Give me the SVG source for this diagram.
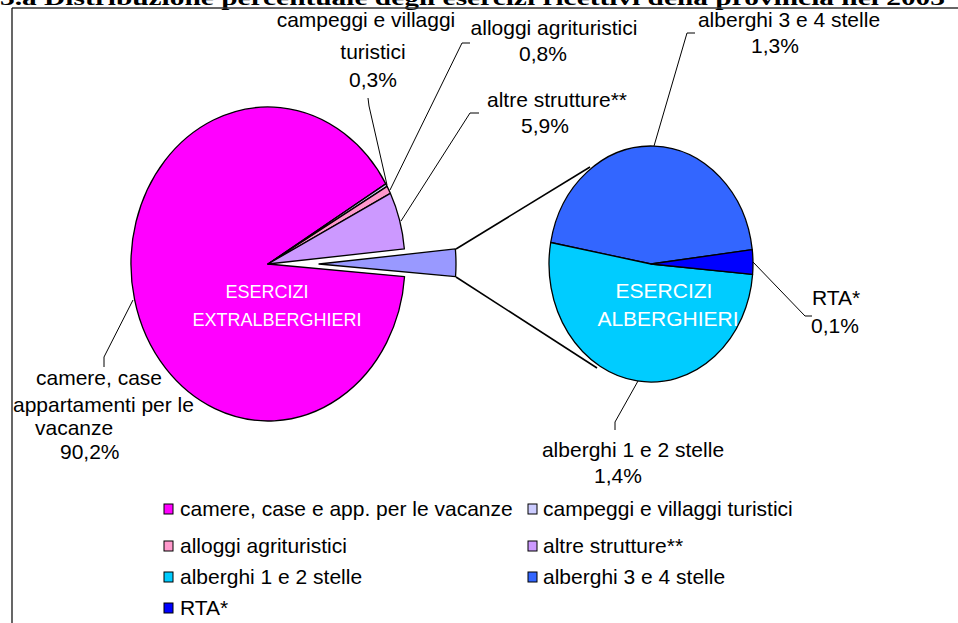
<svg xmlns="http://www.w3.org/2000/svg" width="958" height="623" viewBox="0 0 958 623">
<style>
.lbl{font-family:"Liberation Sans",Arial,sans-serif;font-size:21px;fill:#000}
.in{font-family:"Liberation Sans",Arial,sans-serif;font-size:21px;fill:#fff;text-anchor:middle}
.in2{font-family:"Liberation Sans",Arial,sans-serif;font-size:18px;fill:#fff;text-anchor:middle}
.mid{text-anchor:middle}
.sl{stroke:#000;stroke-width:1.3;stroke-linejoin:round}
.lead{fill:none;stroke:#000;stroke-width:1}
.conn{fill:none;stroke:#000;stroke-width:1.6}
.key{stroke:#000;stroke-width:1}
.title{font-family:"Liberation Serif","Times New Roman",serif;font-size:22px;font-weight:bold;fill:#000}
</style>
<rect width="958" height="623" fill="#fff"/>
<text class="title" x="0" y="5" textLength="945" lengthAdjust="spacingAndGlyphs">3.a Distribuzione percentuale degli esercizi ricettivi della provincia nel 2003</text>
<g id="frame">
<line x1="12" y1="8" x2="958" y2="8" stroke="#333" stroke-width="1.6"/>
<line x1="12" y1="8" x2="12" y2="623" stroke="#000" stroke-width="1.2"/>
</g>
<g id="connectors">
<polyline class="conn" points="456,249 590,167"/>
<polyline class="conn" points="456,277 597,368"/>
<polyline class="lead" points="104,367 104,357 133,300"/>
<polyline class="lead" points="368,98 369,106 387,185"/>
<polyline class="lead" points="470,43 462,43 390,190"/>
<polyline class="lead" points="479,113 470,113 401,221"/>
<polyline class="lead" points="695,33 687,33 654,146"/>
<polyline class="lead" points="753,262 805,316 812,316"/>
<polyline class="lead" points="638,381 615,422 615,430"/>
</g>
<g id="camere">
<path class="sl" fill="#FF00FF" d="M268,264 L404.56,276.54 A137,157 0 1,1 385.80,183.84 Z"/>
<text class="lbl" x="36" y="385">camere, case</text>
<text class="lbl" x="13" y="412">appartamenti per le</text>
<text class="lbl" x="35" y="435">vacanze</text>
<text class="lbl" x="60" y="459">90,2%</text>
<text class="in2" x="267" y="298">ESERCIZI</text>
<text class="in2" x="277" y="326">EXTRALBERGHIERI</text>
</g>
<g id="campeggi">
<path class="sl" fill="#CCCCFF" d="M268,264 L385.80,183.84 A137,157 0 0,1 387.10,186.40 Z"/>
<text class="lbl mid" x="366" y="27">campeggi e villaggi</text>
<text class="lbl mid" x="373" y="59">turistici</text>
<text class="lbl mid" x="373" y="87">0,3%</text>
</g>
<g id="alloggi">
<path class="sl" fill="#FF99CC" d="M268,264 L387.10,186.40 A137,157 0 0,1 390.35,193.36 Z"/>
<text class="lbl mid" x="554" y="35">alloggi agrituristici</text>
<text class="lbl mid" x="543" y="61">0,8%</text>
</g>
<g id="altre">
<path class="sl" fill="#CC99FF" d="M268,264 L390.35,193.36 A137,157 0 0,1 404.37,248.95 Z"/>
<text class="lbl mid" x="557" y="107">altre strutture**</text>
<text class="lbl mid" x="545" y="133">5,9%</text>
</g>
<g id="alberghi-totale">
<path class="sl" fill="#9999FF" d="M319,264 L455.37,248.95 A137,157 0 0,1 455.56,276.54 Z"/>
</g>
<g id="alberghi34">
<path class="sl" fill="#3366FF" d="M651,264 L550.71,242.50 A102,118 0 0,1 752.24,249.62 Z"/>
<text class="lbl mid" x="789" y="27">alberghi 3 e 4 stelle</text>
<text class="lbl mid" x="775" y="53">1,3%</text>
</g>
<g id="alberghi12">
<path class="sl" fill="#00CCFF" d="M651,264 L752.61,274.28 A102,118 0 1,1 550.71,242.50 Z"/>
<text class="lbl mid" x="633" y="457">alberghi 1 e 2 stelle</text>
<text class="lbl mid" x="618" y="483">1,4%</text>
</g>
<g id="rta">
<path class="sl" fill="#0000FF" d="M651,264 L752.24,249.62 A102,118 0 0,1 752.61,274.28 Z"/>
<text class="lbl" x="812" y="305">RTA*</text>
<text class="lbl" x="811" y="333">0,1%</text>
</g>
<g id="inner-label">
<text class="in" x="664" y="298">ESERCIZI</text>
<text class="in" x="668" y="326">ALBERGHIERI</text>
</g>
<g id="legend">
<rect class="key" x="164" y="504" width="9" height="10" fill="#FF00FF"/>
<text class="lbl" x="180" y="516">camere, case e app. per le vacanze</text>
<rect class="key" x="528" y="504" width="9" height="10" fill="#CCCCFF"/>
<text class="lbl" x="543" y="516">campeggi e villaggi turistici</text>
<rect class="key" x="164" y="541" width="9" height="10" fill="#FF99CC"/>
<text class="lbl" x="180" y="553">alloggi agrituristici</text>
<rect class="key" x="528" y="541" width="9" height="10" fill="#CC99FF"/>
<text class="lbl" x="543" y="553">altre strutture**</text>
<rect class="key" x="164" y="572" width="9" height="10" fill="#00CCFF"/>
<text class="lbl" x="180" y="584">alberghi 1 e 2 stelle</text>
<rect class="key" x="528" y="572" width="9" height="10" fill="#3366FF"/>
<text class="lbl" x="543" y="584">alberghi 3 e 4 stelle</text>
<rect class="key" x="164" y="603" width="9" height="10" fill="#0000FF"/>
<text class="lbl" x="180" y="615">RTA*</text>
</g>
</svg>
